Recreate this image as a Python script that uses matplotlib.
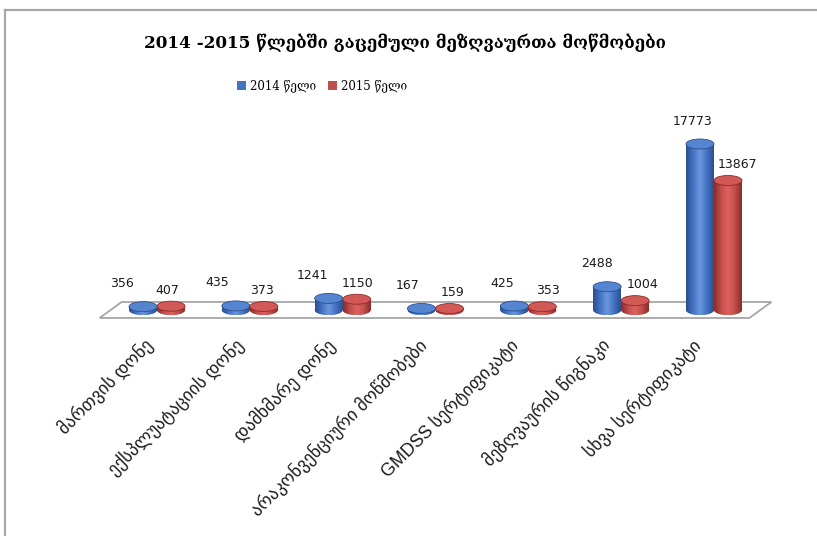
import numpy as np
import matplotlib
matplotlib.use("Agg")
import matplotlib.pyplot as plt
from matplotlib.patches import Ellipse, Polygon, Patch
from matplotlib.colors import LinearSegmentedColormap
from matplotlib.lines import Line2D
from matplotlib import font_manager

# ---- data ----
categories = [
    "მართვის დონე",
    "ექსპლუატაციის დონე",
    "დამხმარე დონე",
    "არაკონვენციური მოწმობები",
    "GMDSS სერტიფიკატი",
    "მეზღვაურის წიგნაკი",
    "სხვა სერტიფიკატი",
]
series_names = ["2014 წელი", "2015 წელი"]
values_2014 = [356, 435, 1241, 167, 425, 2488, 17773]
values_2015 = [407, 373, 1150, 159, 353, 1004, 13867]
title = "2014 -2015 წლებში გაცემული მეზღვაურთა მოწმობები"

# ---- styling ----
W, H, DPI = 817, 536, 100
blue = dict(base="#4472c4", dark="#2b4f8f", light="#6b98dc", top="#5585d0")
red = dict(base="#c0504d", dark="#8e2a28", light="#e0615d", top="#d25a56")

installed = {f.name for f in font_manager.fontManager.ttflist}
latin_face = "Liberation Sans Narrow" if "Liberation Sans Narrow" in installed else "Liberation Sans"

fig = plt.figure(figsize=(W / DPI, H / DPI), dpi=DPI)
fig.patch.set_facecolor("white")

# plot area in pixels: category span and value span
ax_left_px, ax_right_px = 110.6, 760.4
ax_top_px, ax_bot_px = 115, 330
base_px = 310
ax = fig.add_axes([ax_left_px / W, 1 - ax_bot_px / H,
                   (ax_right_px - ax_left_px) / W, (ax_bot_px - ax_top_px) / H])
px_per_unit = 0.00934
ymin = -(ax_bot_px - base_px) / px_per_unit
ymax = (base_px - ax_top_px) / px_per_unit

n = len(categories)
x = np.arange(n)
cat_px = (ax_right_px - ax_left_px) / n
bw = 28 / cat_px          # cylinder width in category units
ell_h = 10 / px_per_unit  # ellipse height in value units
offset = 14 / cat_px

# floor of the 3-D plot
dx = 11 / cat_px
dy = 8 / px_per_unit
floor = Polygon([(-0.5 + dx, dy), (n - 0.5 + dx, dy), (n - 0.5 - dx, -dy), (-0.5 - dx, -dy)],
                closed=True, facecolor="white", edgecolor="#a6a6a6", lw=1.3, zorder=1,
                clip_on=False)
ax.add_patch(floor)


def cylinders(xpos, vals, col, z):
    cmap = LinearSegmentedColormap.from_list(
        "cyl", [col["dark"], col["base"], col["light"], col["base"], col["dark"]])
    grad = np.linspace(0, 1, 64).reshape(1, -1)
    bars = ax.bar(xpos, vals, width=bw, bottom=0, color=col["base"], lw=0, zorder=z)
    for rect in bars:
        x0, w, h = rect.get_x(), rect.get_width(), rect.get_height()
        xc = x0 + w / 2
        bottom = Ellipse((xc, 0), w, ell_h, facecolor=col["base"], lw=0, zorder=z)
        ax.add_patch(bottom)
        for clip in (rect, bottom):
            im = ax.imshow(grad, extent=(x0, x0 + w, -ell_h / 2, h), aspect="auto",
                           cmap=cmap, zorder=z + 0.1, interpolation="bicubic")
            im.set_clip_path(clip)
        ax.add_patch(Ellipse((xc, h), w, ell_h, facecolor=col["top"],
                             edgecolor=col["dark"], lw=0.6, zorder=z + 0.2))
    return bars


cylinders(x - offset, values_2014, blue, 3)
cylinders(x + offset, values_2015, red, 4)

# value labels
lab_font = dict(fontsize=9, color="#1a1a1a", family="DejaVu Sans")
for i, (v1, v2) in enumerate(zip(values_2014, values_2015)):
    ax.annotate(f"{v1}", (x[i] - offset, v1), xytext=(-21 + 2.2 * i, 23),
                textcoords="offset pixels", ha="center", va="center", zorder=6, **lab_font)
    ax.annotate(f"{v2}", (x[i] + offset, v2), xytext=(-4 + 2.3 * i, 16),
                textcoords="offset pixels", ha="center", va="center", zorder=6, **lab_font)

ax.set_xlim(-0.5, n - 0.5)
ax.set_ylim(ymin, ymax)
ax.set_yticks([])
ax.set_xticks(x - (14 + 1.3 * x) / cat_px)
ax.set_xticklabels(categories, rotation=45, ha="right", rotation_mode="anchor",
                   fontsize=12.8, color="#1a1a1a",
                   family=[latin_face, "DejaVu Sans"])
ax.tick_params(axis="x", length=0, pad=4)
for s in ax.spines.values():
    s.set_visible(False)
ax.patch.set_alpha(0)

# title and legend
fig.text(405.5 / W, 1 - 43 / H, title, ha="center", va="center", fontsize=12.2,
         fontweight="bold", family=["DejaVu Serif", "DejaVu Sans"], color="black")
handles = [Patch(facecolor=blue["base"]), Patch(facecolor=red["base"])]
fig.legend(handles, series_names, loc="center", bbox_to_anchor=(322 / W, 1 - 86 / H),
           ncol=2, frameon=False, handlelength=0.8, handleheight=0.8, handletextpad=0.3,
           columnspacing=1.0, prop=dict(family=["DejaVu Serif", "DejaVu Sans"], size=8.5))

# chart border (top and left edges)
fig.add_artist(Line2D([5 / W, 1], [1 - 10 / H, 1 - 10 / H], color="#a8a8a8", lw=1.6,
                      transform=fig.transFigure))
fig.add_artist(Line2D([5 / W, 5 / W], [0, 1 - 10 / H], color="#a8a8a8", lw=1.6,
                      transform=fig.transFigure))

fig.savefig("out.png", dpi=DPI)
